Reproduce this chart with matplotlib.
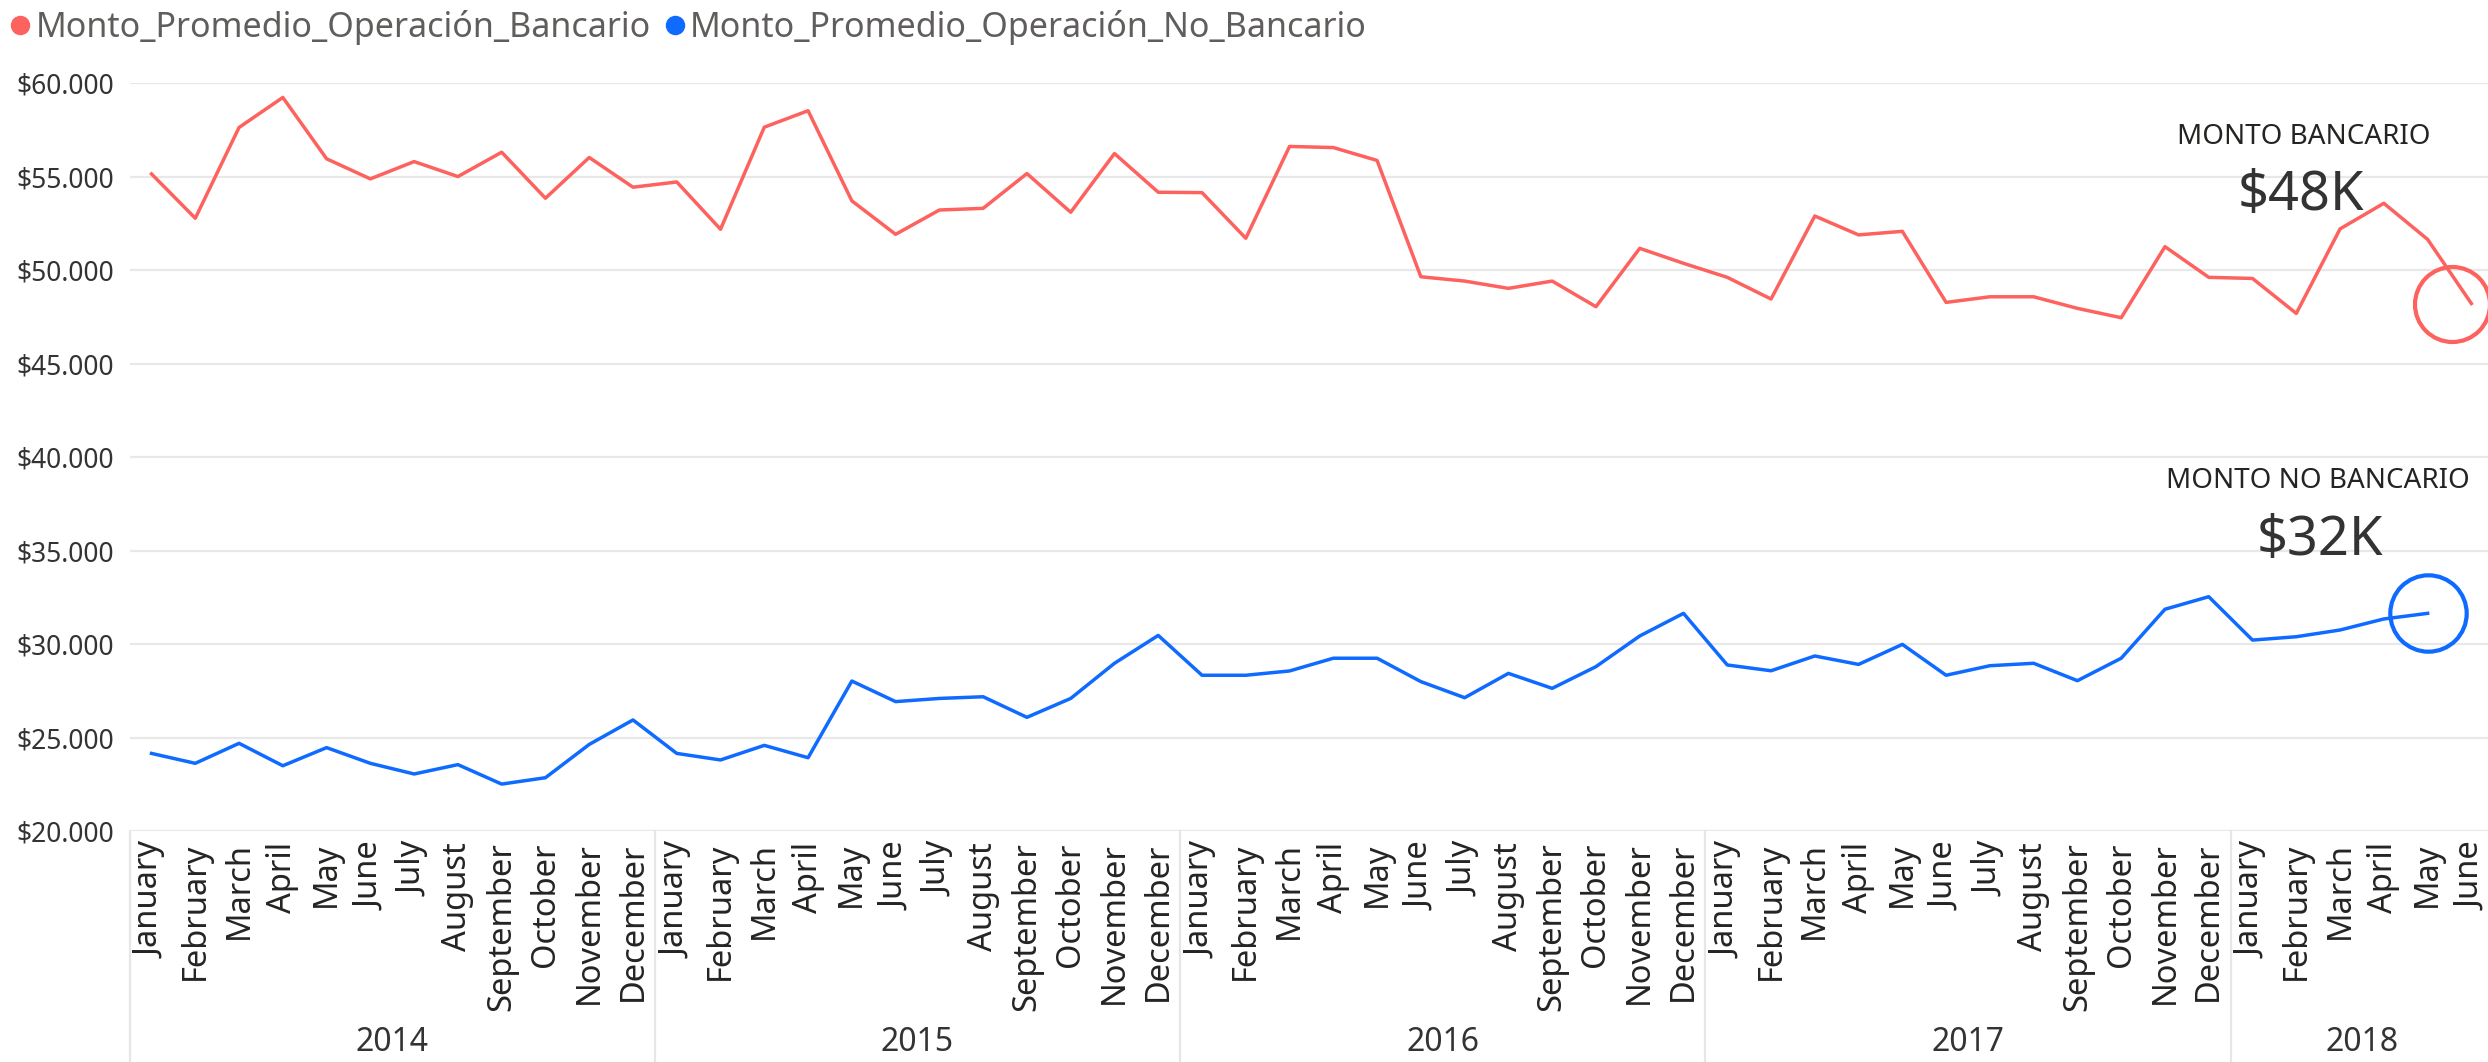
import matplotlib
matplotlib.use("Agg")
import matplotlib.pyplot as plt
from matplotlib.lines import Line2D
from matplotlib.ticker import FuncFormatter
import matplotlib.transforms as mtransforms

plt.rcParams['font.family'] = ['Noto Sans', 'DejaVu Sans']

# datos mensuales, enero 2014 - junio 2018
years = ['2014', '2015', '2016', '2017', '2018']
months = ['January', 'February', 'March', 'April', 'May', 'June', 'July',
          'August', 'September', 'October', 'November', 'December']
month_labels = months * 4 + months[:6]

bancario = [55140, 52770, 57625, 59230, 55950, 54875, 55800, 55000, 56300, 53840, 56020, 54430,
            54710, 52180, 57640, 58520, 53700, 51910, 53210, 53300, 55160, 53090, 56230, 54160,
            54140, 51700, 56610, 56550, 55860, 49640, 49410, 49020, 49410, 48040, 51160, 50360,
            49610, 48450, 52890, 51880, 52070, 48270, 48570, 48570, 47950, 47450, 51250, 49610,
            49550, 47680, 52200, 53570, 51640, 48210]
no_bancario = [24150, 23620, 24690, 23490, 24460, 23620, 23050, 23550, 22510, 22850, 24630, 25940,
               24150, 23800, 24580, 23920, 28020, 26920, 27090, 27180, 26080, 27090, 28970, 30460,
               28330, 28330, 28560, 29240, 29240, 27990, 27130, 28430, 27630, 28790, 30430, 31640,
               28880, 28570, 29360, 28910, 29980, 28330, 28840, 28970, 28040, 29240, 31860, 32530,
               30210, 30390, 30750, 31340, 31640]

ROJO = '#FD625E'
AZUL = '#0F6BFF'

fig = plt.figure(figsize=(24.88, 10.62), dpi=100)
ax = fig.add_axes([0.0521, 0.2175, 0.9479, 0.7043])

x_b = list(range(len(bancario)))
x_nb = list(range(len(no_bancario)))
ax.plot(x_b, bancario, color=ROJO, lw=2.5, zorder=3)
ax.plot(x_nb, no_bancario, color=AZUL, lw=2.5, zorder=3)

# circulos de resaltado al final de cada serie
ax.plot([x_b[-1] - 0.45], [bancario[-1]], marker='o', ms=54, mfc='none',
        mec=ROJO, mew=3, clip_on=False, zorder=4)
ax.plot([x_nb[-1]], [no_bancario[-1]], marker='o', ms=55, mfc='none',
        mec=AZUL, mew=3, clip_on=False, zorder=4)

ax.set_xlim(-0.5, 53.38)
ax.set_ylim(20000, 60000)
ax.set_yticks(range(20000, 60001, 5000))
ax.yaxis.set_major_formatter(FuncFormatter(lambda v, p: '${:,.0f}'.format(v).replace(',', '.')))
ax.grid(axis='y', color='#E8E8E8', lw=1.6)
ax.set_axisbelow(True)
for s in ax.spines.values():
    s.set_visible(False)

ax.set_xticks(x_b)
ax.set_xticklabels(month_labels, rotation=90, fontsize=23.5, color='#252423', va='top')
ax.tick_params(axis='x', length=0, pad=8)
ax.tick_params(axis='y', length=0, pad=11, labelsize=19, labelcolor='#333333')

# separadores y etiquetas de año
trans = mtransforms.blended_transform_factory(ax.transData, ax.transAxes)
for i, yr in enumerate(years):
    start = i * 12
    end = min(start + 12, len(bancario))
    ax.plot([start - 0.5, start - 0.5], [0, -0.31], transform=trans, color='#E6E6E6',
            lw=1.6, clip_on=False)
    ax.text((start + end - 1) / 2, -0.2834, yr, transform=trans, ha='center', va='center',
            fontsize=23, color='#333333')

# leyenda
handles = [Line2D([], [], marker='o', ls='none', color=ROJO, ms=13),
           Line2D([], [], marker='o', ls='none', color=AZUL, ms=13)]
fig.legend(handles, ['Monto_Promedio_Operación_Bancario', 'Monto_Promedio_Operación_No_Bancario'],
           loc='upper left', bbox_to_anchor=(0.0, 1.0), ncol=2, frameon=False,
           fontsize=24.5, labelcolor='#605E5C', handlelength=0.6, handletextpad=0.15,
           columnspacing=0.4, borderaxespad=0.1, borderpad=0.2)

# textos de valor actual
fig.text(0.926, 0.871, 'MONTO BANCARIO', ha='center', va='center', fontsize=20, color='#252423')
fig.text(0.925, 0.816, '$48K', ha='center', va='center', fontsize=39, color='#333333')
fig.text(0.9317, 0.547, 'MONTO NO BANCARIO', ha='center', va='center', fontsize=20, color='#252423')
fig.text(0.9325, 0.4906, '$32K', ha='center', va='center', fontsize=39, color='#333333')

fig.savefig('out.png', dpi=100)
